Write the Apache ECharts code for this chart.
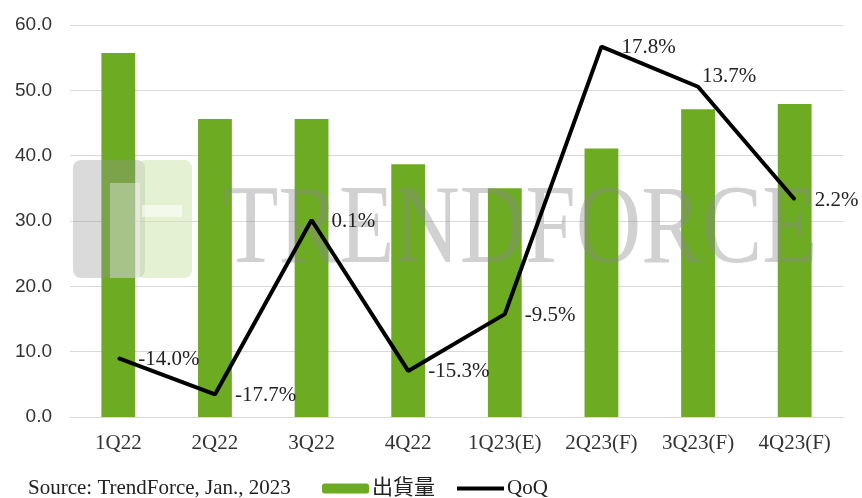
<!DOCTYPE html>
<html>
<head>
<meta charset="utf-8">
<script src="https://cdn.jsdelivr.net/npm/echarts@6/dist/echarts.min.js"></script>
<style>html,body{margin:0;padding:0;background:#fff}#c{width:862px;height:498px}</style>
</head>
<body>
<div id="c"></div>
<script>
const categories = ['1Q22','2Q22','3Q22','4Q22','1Q23(E)','2Q23(F)','3Q23(F)','4Q23(F)'];
const shipments = [55.7, 45.6, 45.6, 38.7, 35.0, 41.1, 47.1, 47.9];
const qoq = [-14.0, -17.7, 0.1, -15.3, -9.5, 17.8, 13.7, 2.2];
const yTicks = [0, 10, 20, 30, 40, 50, 60];
const seriesNames = ['出貨量', 'QoQ'];
const sourceText = 'Source: TrendForce, Jan., 2023';
const watermarkText = 'TRENDFORCE';

const serif = '"Liberation Serif","Times New Roman",serif';
const chart = echarts.init(document.getElementById('c'), null, {renderer: 'canvas'});

const labelOffsets = qoq.map((v, i) => i === 6 ? [-16, -10] : [0, 1]);

chart.setOption({
  animation: false,
  backgroundColor: '#ffffff',
  grid: {left: 70, right: 19, top: 25, bottom: 81},
  legend: {
    left: 322, top: 478, padding: 0,
    itemWidth: 47, itemHeight: 10, itemGap: 20,
    textStyle: {fontFamily: '"Liberation Serif","Noto Sans CJK TC",serif', fontSize: 21, color: '#222', padding: [0, 0, 0, -2]},
    data: [{name: seriesNames[0]}, {name: seriesNames[1], itemStyle: {opacity: 0}, lineStyle: {width: 4, color: '#000'}}]
  },
  xAxis: {
    type: 'category',
    data: categories,
    axisTick: {show: false},
    axisLine: {lineStyle: {color: '#d9d9d9', width: 1}},
    axisLabel: {fontFamily: serif, fontSize: 21, color: '#333', margin: 16}
  },
  yAxis: [{
    type: 'value',
    min: yTicks[0], max: yTicks[yTicks.length - 1], interval: 10,
    axisLine: {show: false}, axisTick: {show: false},
    splitLine: {lineStyle: {color: '#d9d9d9', width: 1}},
    axisLabel: {fontFamily: '"Liberation Sans",Arial,sans-serif', fontSize: 19, color: '#333', margin: 18,
      formatter: v => v.toFixed(1)}
  }, {
    type: 'value', min: -20, max: 20, show: false,
    splitLine: {show: false}
  }],
  series: [{
    name: seriesNames[0],
    type: 'bar',
    data: shipments,
    barWidth: '35%',
    itemStyle: {color: '#6cab22'},
    z: 1
  }, {
    name: seriesNames[1],
    type: 'line',
    yAxisIndex: 1,
    data: qoq.map((v, i) => ({value: v, label: {offset: labelOffsets[i]}})),
    symbol: 'circle', symbolSize: 2, showSymbol: true,
    itemStyle: {color: '#000'},
    lineStyle: {color: '#000', width: 4},
    label: {
      show: true, position: 'right', distance: 19,
      fontFamily: serif, fontSize: 21, color: '#222',
      formatter: p => p.value.toFixed(1) + '%'
    },
    z: 5
  }],
  graphic: [
    {type: 'rect', z: 3, shape: {x: 73, y: 160, width: 72, height: 118, r: 8}, style: {fill: 'rgba(150,150,150,0.35)'}},
    {type: 'rect', z: 3, shape: {x: 137, y: 160, width: 55, height: 118, r: 8}, style: {fill: 'rgba(205,230,175,0.55)'}},
    {type: 'rect', z: 3, shape: {x: 142, y: 205, width: 40, height: 12}, style: {fill: 'rgba(255,255,255,0.55)'}},
    {type: 'rect', z: 3, shape: {x: 110, y: 183, width: 30, height: 95}, style: {fill: 'rgba(255,255,255,0.35)'}},
    {type: 'text', z: 3, x: 223, y: 177, scaleX: 0.81,
      style: {x: 0, y: 0, text: watermarkText, font: '112px "Liberation Serif", serif', verticalAlign: 'top', fill: 'rgba(140,140,140,0.4)'}},
    {type: 'text', left: 28, top: 478,
      style: {text: sourceText, font: '21px "Liberation Serif", serif', fill: '#222'}}
  ]
});
</script>
</body>
</html>
